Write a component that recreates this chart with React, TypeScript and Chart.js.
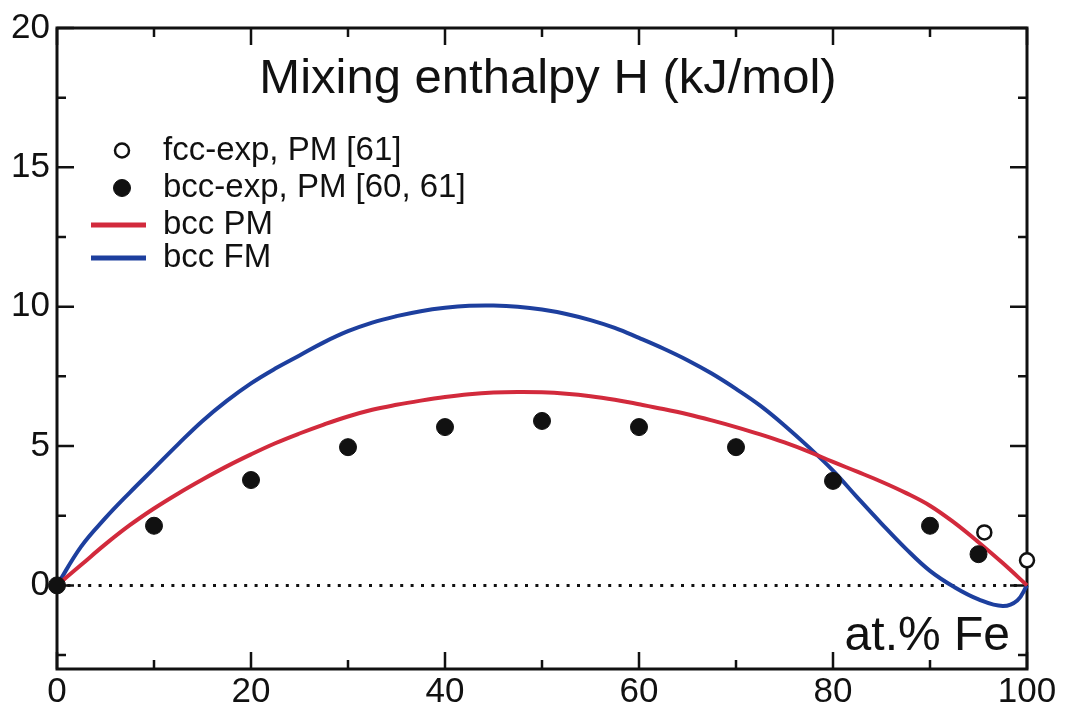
import { useEffect, useRef } from "react";
import { Chart, registerables } from "chart.js";

Chart.register(...registerables);

const FONT = '"Liberation Sans", Arial, Helvetica, sans-serif';
const INK = "#111111";
const RED = "#d22a3c";
const BLUE = "#1d3f9e";

const titleText = "Mixing enthalpy H (kJ/mol)";
const xAxisLabel = "at.% Fe";

// Tick labels / tick marks
const xTickValues = [0, 20, 40, 60, 80, 100];
const xMinorTicks = [10, 30, 50, 70, 90];
const yTickValues = [0, 5, 10, 15, 20];
const yMinorTicks = [-2.5, 2.5, 7.5, 12.5, 17.5];

// Experimental data
const fccExpX = [95.6, 100];
const fccExpH = [1.9, 0.9];

const bccExpX = [0, 10, 20, 30, 40, 50, 60, 70, 80, 90, 95];
const bccExpH = [0, 2.14, 3.78, 4.96, 5.68, 5.9, 5.68, 4.96, 3.75, 2.14, 1.12];

// Calculated curves
const bccPmX = [0, 2.5, 5, 7.5, 10, 12.5, 15, 17.5, 20, 22.5, 25, 27.5, 30, 32.5, 35, 37.5, 40, 42.5, 45, 47.5, 50, 52.5, 55, 57.5, 60, 62.5, 65, 67.5, 70, 72.5, 75, 77.5, 80, 82.5, 85, 87.5, 90, 92.5, 95, 97.5, 100];
const bccPmH = [0, 0.74, 1.48, 2.16, 2.76, 3.3, 3.8, 4.27, 4.7, 5.1, 5.45, 5.77, 6.06, 6.3, 6.48, 6.63, 6.76, 6.86, 6.92, 6.94, 6.93, 6.88, 6.79, 6.66, 6.5, 6.33, 6.14, 5.92, 5.68, 5.42, 5.13, 4.8, 4.43, 4.08, 3.72, 3.32, 2.86, 2.25, 1.55, 0.8, 0];

const bccFmX = [0, 2.5, 5, 7.5, 10, 12.5, 15, 17.5, 20, 22.5, 25, 27.5, 30, 32.5, 35, 37.5, 40, 42.5, 45, 47.5, 50, 52.5, 55, 57.5, 60, 62.5, 65, 67.5, 70, 72.5, 75, 77.5, 80, 82.5, 85, 87.5, 90, 92.5, 95, 97.5, 99, 100];
const bccFmH = [0, 1.4, 2.42, 3.33, 4.2, 5.07, 5.9, 6.62, 7.25, 7.78, 8.25, 8.72, 9.12, 9.43, 9.66, 9.84, 9.96, 10.03, 10.04, 10.0, 9.9, 9.74, 9.52, 9.24, 8.88, 8.5, 8.08, 7.6, 7.05, 6.45, 5.74, 4.96, 4.12, 3.16, 2.22, 1.32, 0.52, -0.06, -0.5, -0.74, -0.54, 0];

const zeroLineX = [0, 100];
const zeroLineH = [0, 0];

const toPoints = (xs: number[], ys: number[]) => xs.map((x, i) => ({ x, y: ys[i] }));

// Frame with inward major/minor tick marks on all four sides
const framePlugin = {
  id: "frame",
  beforeDatasetsDraw(chart: any) {
    const { ctx, chartArea: a, scales } = chart;
    const xs = scales.x;
    const ys = scales.y;
    const major = 17;
    const minor = 9;
    ctx.save();
    ctx.strokeStyle = INK;
    ctx.lineWidth = 3;
    ctx.lineCap = "square";
    ctx.strokeRect(a.left, a.top, a.right - a.left, a.bottom - a.top);
    ctx.lineCap = "butt";
    ctx.lineWidth = 2.5;
    const xTick = (v: number, len: number) => {
      const px = xs.getPixelForValue(v);
      ctx.beginPath();
      ctx.moveTo(px, a.bottom);
      ctx.lineTo(px, a.bottom - len);
      ctx.moveTo(px, a.top);
      ctx.lineTo(px, a.top + len);
      ctx.stroke();
    };
    const yTick = (v: number, len: number) => {
      const py = ys.getPixelForValue(v);
      ctx.beginPath();
      ctx.moveTo(a.left, py);
      ctx.lineTo(a.left + len, py);
      ctx.moveTo(a.right, py);
      ctx.lineTo(a.right - len, py);
      ctx.stroke();
    };
    xTickValues.forEach((v) => xTick(v, major));
    xMinorTicks.forEach((v) => xTick(v, minor));
    yTickValues.forEach((v) => yTick(v, major));
    yMinorTicks.forEach((v) => yTick(v, minor));
    ctx.restore();
  },
};

// Title, in-plot legend and axis caption
const annotationPlugin = {
  id: "annotations",
  afterDraw(chart: any) {
    const { ctx, chartArea: a } = chart;
    ctx.save();
    ctx.fillStyle = INK;

    ctx.font = `49px ${FONT}`;
    ctx.textAlign = "center";
    ctx.textBaseline = "alphabetic";
    ctx.fillText(titleText, 548, 93);

    ctx.font = `48px ${FONT}`;
    ctx.textAlign = "right";
    ctx.fillText(xAxisLabel, a.right - 17, 650);

    const rows = [150.5, 188, 225, 258];
    let row = 0;
    ctx.font = `33px ${FONT}`;
    ctx.textAlign = "left";
    ctx.textBaseline = "middle";
    chart.data.datasets.forEach((ds: any) => {
      if (!ds.label) return;
      const y = rows[row++];
      if (ds.showLine === false) {
        ctx.beginPath();
        ctx.arc(122, y, ds.legendRadius, 0, Math.PI * 2);
        ctx.fillStyle = ds.pointBackgroundColor;
        ctx.fill();
        ctx.lineWidth = ds.pointBorderWidth;
        ctx.strokeStyle = ds.pointBorderColor;
        ctx.stroke();
      } else {
        ctx.beginPath();
        ctx.moveTo(91, y);
        ctx.lineTo(146, y);
        ctx.lineWidth = 5;
        ctx.strokeStyle = ds.borderColor;
        ctx.stroke();
      }
      ctx.fillStyle = INK;
      ctx.fillText(ds.label, 163, y);
    });
    ctx.restore();
  },
};

export default function App() {
  const canvasRef = useRef<HTMLCanvasElement | null>(null);

  useEffect(() => {
    if (!canvasRef.current) return;
    Chart.defaults.font.family = FONT;
    const chart = new Chart(canvasRef.current, {
      type: "line",
      data: {
        datasets: [
          {
            label: "fcc-exp, PM [61]",
            data: toPoints(fccExpX, fccExpH),
            showLine: false,
            pointRadius: 7,
            legendRadius: 7,
            pointBorderWidth: 2.5,
            pointBackgroundColor: "#ffffff",
            pointBorderColor: INK,
            clip: false,
          } as any,
          {
            label: "bcc-exp, PM [60, 61]",
            data: toPoints(bccExpX, bccExpH),
            showLine: false,
            pointRadius: 8.5,
            legendRadius: 8.5,
            pointBorderWidth: 1,
            pointBackgroundColor: INK,
            pointBorderColor: INK,
            clip: false,
          } as any,
          {
            label: "bcc PM",
            data: toPoints(bccPmX, bccPmH),
            borderColor: RED,
            borderWidth: 4,
            pointRadius: 0,
            tension: 0.4,
            clip: false,
          },
          {
            label: "bcc FM",
            data: toPoints(bccFmX, bccFmH),
            borderColor: BLUE,
            borderWidth: 4,
            pointRadius: 0,
            tension: 0.4,
            clip: false,
          },
          {
            data: toPoints(zeroLineX, zeroLineH),
            borderColor: INK,
            borderWidth: 3,
            borderDash: [3, 7.4],
            pointRadius: 0,
            clip: false,
          },
        ],
      },
      options: {
        responsive: false,
        maintainAspectRatio: false,
        devicePixelRatio: 1,
        animation: false,
        events: [],
        layout: { padding: { top: 24, right: 38, left: 0, bottom: 0 } },
        plugins: {
          legend: { display: false },
          tooltip: { enabled: false },
          title: { display: false },
        },
        scales: {
          x: {
            type: "linear",
            min: 0,
            max: 100,
            grid: { display: false, drawTicks: false },
            border: { display: false },
            afterFit: (scale: any) => {
              scale.height = 43;
            },
            afterBuildTicks: (scale: any) => {
              scale.ticks = xTickValues.map((value) => ({ value }));
            },
            ticks: {
              color: INK,
              padding: 2,
              maxRotation: 0,
              autoSkip: false,
              font: { size: 35, family: FONT },
            },
          },
          y: {
            type: "linear",
            min: -3,
            max: 20,
            grid: { display: false, drawTicks: false },
            border: { display: false },
            afterFit: (scale: any) => {
              scale.width = 57;
            },
            afterBuildTicks: (scale: any) => {
              scale.ticks = yTickValues.map((value) => ({ value }));
            },
            ticks: {
              color: INK,
              padding: 7,
              autoSkip: false,
              font: { size: 35, family: FONT },
            },
          },
        },
      },
      plugins: [framePlugin, annotationPlugin],
    });
    return () => chart.destroy();
  }, []);

  return (
    <div style={{ position: "fixed", left: 0, top: 0, width: 1065, height: 712, background: "#ffffff" }}>
      <canvas ref={canvasRef} width={1065} height={712} style={{ display: "block" }} />
    </div>
  );
}
